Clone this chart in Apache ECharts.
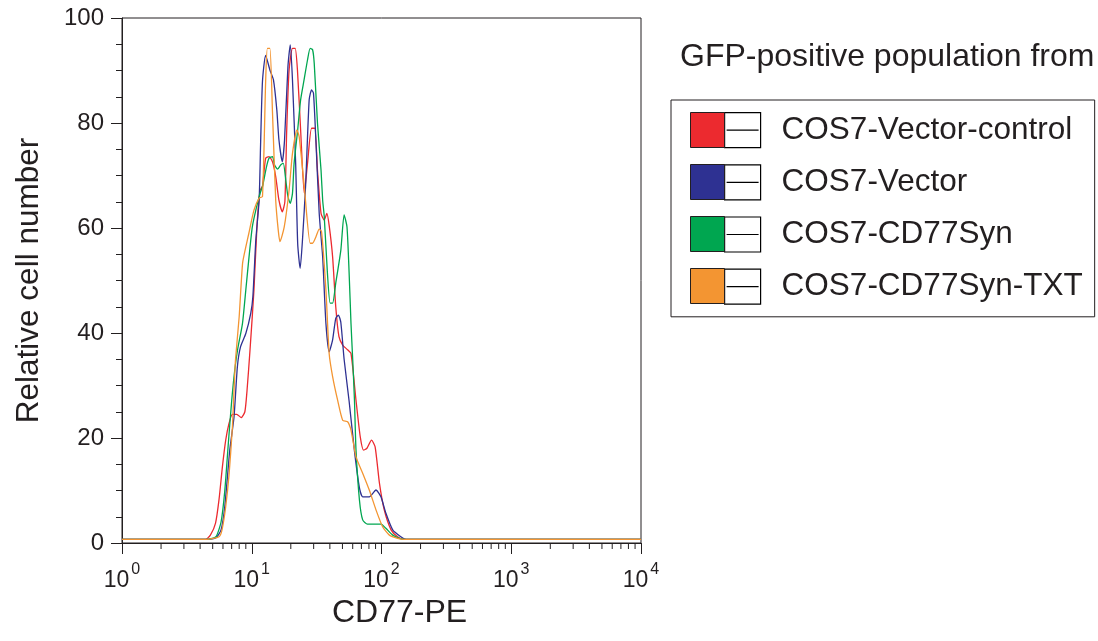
<!DOCTYPE html>
<html>
<head>
<meta charset="utf-8">
<script src="https://cdn.jsdelivr.net/npm/echarts@6/dist/echarts.min.js"></script>
<style>
html,body{margin:0;padding:0;background:#fff;}
#chart{width:1098px;height:641px;}
</style>
</head>
<body>
<div id="chart"></div>
<script>
const FONT = "'Liberation Sans', Arial, Helvetica, sans-serif";
const INK = '#231f20';

const seriesNames = ['COS7-Vector-control', 'COS7-Vector', 'COS7-CD77Syn', 'COS7-CD77Syn-TXT'];
const seriesColors = ['#ec2a2f', '#2e3192', '#00a650', '#f39532'];

const redData = [[1,0.7],[4.4,0.7],[4.8,1.5],[5.26,3.8],[5.59,8.2],[5.94,14.5],[6.3,19.6],[6.68,22.8],[7.1,24.5],[7.66,24.5],[8.3,23.9],[8.85,25],[9.2,29.1],[9.7,36.8],[10.4,48.2],[11.0,60.9],[11.6,67.2],[12.1,68],[12.8,73.3],[13.6,73.6],[14.45,72.6],[15.3,69.8],[16.2,65.3],[17.2,63.1],[18.0,65],[18.6,78.7],[19.4,90.1],[20.6,94.2],[21.6,94.2],[22.5,90.1],[23.8,78.7],[25.4,66.6],[26.9,72.3],[28.9,79],[30.6,79],[32.1,71],[34.2,62.8],[36.2,61.5],[37.9,62.8],[39.5,60.5],[42,54.5],[44.4,45],[47,39.3],[50.2,37.7],[54.8,36.8],[58.2,36.1],[63.6,27.2],[68.6,20.2],[72.7,17.7],[77,18],[83.8,19.6],[89.3,18.3],[96.4,11.4],[105,6.3],[118.5,2.5],[133,1.2],[150,0.7],[10000,0.7]];

const blueData = [[1,0.7],[4.5,0.7],[5.3,1.0],[5.8,2.5],[6.2,7],[6.77,17.7],[7.3,24],[7.75,33.6],[8.2,37.4],[9.0,39.9],[9.83,43.8],[10.2,46.9],[10.75,57.7],[11.4,65.3],[11.7,76],[12.1,88],[12.8,92.9],[13.8,90.1],[14.7,88.2],[15.6,82.5],[16.2,76.8],[17.2,72.6],[17.9,76.8],[19.0,90.7],[19.8,94.9],[20.6,88.2],[21.8,72.3],[22.6,57],[23.6,52.3],[24.6,57.7],[26.0,68],[27.7,84.4],[28.9,86.3],[29.9,85.7],[31.2,76.8],[33.1,62.8],[35.2,54.5],[37.3,41.8],[39.5,36.4],[42,38.7],[44.4,42.8],[46.6,43.4],[48.6,42],[51.5,35],[56.3,27],[61.9,17.5],[67.6,10.5],[71.6,8.8],[80.5,8.8],[90.7,10.1],[99,8.8],[108,5.7],[122,2.5],[141,1.2],[155,0.7],[10000,0.7]];

const greenData = [[1,0.7],[4.6,0.7],[5.3,1.2],[5.8,4],[6.2,10],[6.6,19],[7.0,27],[7.4,33],[7.8,37],[8.48,41.8],[9.0,48.2],[9.53,54.5],[10.1,60.2],[10.75,63.4],[11.6,66.6],[12.1,67.9],[13.0,71.7],[13.6,73.3],[14.45,73.6],[15.0,72],[15.8,71.2],[16.7,72],[17.5,72.3],[18.3,69.1],[19.0,66],[19.8,64.7],[20.6,66.6],[21.2,72.3],[22.6,78.7],[23.8,84.4],[25.3,88.2],[26.9,92],[28.2,94.2],[29.4,94],[30.3,91.4],[32.1,80],[34.2,71],[35.2,65.3],[36.2,62.2],[38.3,51.4],[40.2,45.7],[42,45.7],[44.4,49.5],[48.6,55.8],[51.5,62.5],[54.2,60.2],[56.3,51.4],[58.2,41.8],[60,34.9],[61.9,27.2],[63.6,17.7],[67.6,8.2],[71.6,4.4],[78,3.6],[99,3.6],[108,2.8],[122,1.5],[137,0.9],[150,0.7],[10000,0.7]];

const orangeData = [[1,0.7],[4.5,0.7],[5.6,1.2],[5.9,2.5],[6.3,6.9],[6.7,13.3],[7.1,22.2],[7.3,29.1],[7.5,35],[8.0,43.1],[8.5,53.3],[9.0,56.4],[9.5,59],[10.4,63.4],[11.4,65.7],[12.1,66],[12.8,88],[13.2,94.2],[13.8,94.2],[14.45,82],[15.3,65.3],[16.0,59.6],[16.5,57.4],[17.8,60.2],[19.4,67.2],[20.6,74.2],[22.3,78.7],[23.2,77.4],[25.4,67.9],[28.2,57.1],[29.4,57.1],[31.2,58.3],[33.1,59.8],[34.5,59.3],[37.3,48.2],[39.5,36.1],[42,31.7],[45.9,27.2],[50.2,23.4],[54.8,23.1],[58.2,21.5],[63.6,16.4],[71.6,13.3],[80.5,10.1],[90.7,6.3],[102,3.1],[115,1.5],[133,0.9],[150,0.7],[10000,0.7]];

const allData = [redData, blueData, greenData, orangeData];

// axis ranges & ticks
const xMin = 1, xMax = 10000;
const yMin = 0, yMax = 100, yInterval = 20;
const decadeStarts = [1, 10, 100, 1000];
const minorMultipliers = [2, 3, 4, 5, 6, 7, 8, 9];
const xMinorTicks = [];
decadeStarts.forEach(d => minorMultipliers.forEach(m => xMinorTicks.push([d * m])));

const chart = echarts.init(document.getElementById('chart'), null, {renderer: 'canvas'});

const lineSeries = seriesNames.map((n, i) => ({
  name: n,
  type: 'line',
  data: allData[i],
  showSymbol: false,
  smooth: 0.2,
  color: seriesColors[i],
  lineStyle: {width: 1.3, color: seriesColors[i]},
  z: 3 + i,
  animation: false
}));

const option = {
  animation: false,
  backgroundColor: '#fff',
  title: {
    text: 'GFP-positive population from',
    left: 675, top: 34,
    textStyle: {fontFamily: FONT, fontSize: 32, fontWeight: 'normal', color: INK, lineHeight: 36}
  },
  grid: {
    left: 122, right: 457, top: 18, bottom: 98,
    show: true, borderColor: INK, borderWidth: 1, backgroundColor: 'transparent'
  },
  legend: [
    {
      data: seriesNames,
      orient: 'vertical',
      left: 671, top: 100,
      padding: [12, 12, 12, 53],
      itemWidth: 36, itemHeight: 35, itemGap: 16,
      icon: 'path://M0,0H36V35H0Z M2,17.5H34',
      itemStyle: {color: '#fff', borderColor: '#000', borderWidth: 1.2},
      borderColor: INK, borderWidth: 1,
      textStyle: {fontFamily: FONT, fontSize: 31.5, color: INK, lineHeight: 35, padding: [0, 0, 0, 16]},
      selectedMode: false
    },
    {
      data: seriesNames,
      orient: 'vertical',
      left: 690, top: 112,
      padding: 0,
      itemWidth: 34, itemHeight: 35, itemGap: 16,
      icon: 'rect',
      itemStyle: {borderColor: INK, borderWidth: 1},
      formatter: () => '',
      textStyle: {fontSize: 10, lineHeight: 35},
      selectedMode: false,
      z: 10
    }
  ],
  xAxis: {
    type: 'log',
    logBase: 10,
    min: xMin, max: xMax,
    name: 'CD77-PE',
    nameLocation: 'middle',
    nameGap: 53,
    nameTextStyle: {fontFamily: FONT, fontSize: 32, color: INK, padding: [0, 0, 0, 36]},
    axisLine: {show: true, onZero: false, lineStyle: {color: INK, width: 1}},
    axisTick: {show: true, length: 11, lineStyle: {color: INK, width: 1}},
    splitLine: {show: false},
    axisLabel: {
      margin: 19,
      color: INK,
      formatter: v => '{b|10}{s|' + Math.round(Math.log10(v)) + '}',
      rich: {
        b: {fontFamily: FONT, fontSize: 23, color: INK, lineHeight: 30, verticalAlign: 'bottom'},
        s: {fontFamily: FONT, fontSize: 16, color: INK, lineHeight: 30, verticalAlign: 'top', padding: [0, 0, 12, 2]}
      }
    }
  },
  yAxis: {
    type: 'value',
    min: yMin, max: yMax, interval: yInterval,
    name: 'Relative cell number',
    nameLocation: 'middle',
    nameGap: 77,
    nameTextStyle: {fontFamily: FONT, fontSize: 31.5, color: INK},
    axisLine: {show: true, lineStyle: {color: INK, width: 1}},
    axisTick: {show: true, length: 11, lineStyle: {color: INK, width: 1}},
    minorTick: {show: true, splitNumber: 4, length: 6, lineStyle: {color: INK, width: 1}},
    splitLine: {show: false},
    axisLabel: {margin: 18, fontFamily: FONT, fontSize: 24, color: INK}
  },
  series: lineSeries.concat([{
    name: 'xMinorTicks',
    type: 'custom',
    data: xMinorTicks,
    silent: true,
    clip: false,
    z: 10,
    encode: {x: 0},
    renderItem: (params, api) => {
      const p = api.coord([api.value(0), 0]);
      return {
        type: 'line',
        shape: {x1: p[0], y1: p[1], x2: p[0], y2: p[1] + 6},
        style: {stroke: INK, lineWidth: 1}
      };
    }
  }])
};
chart.setOption(option);
</script>
</body>
</html>
